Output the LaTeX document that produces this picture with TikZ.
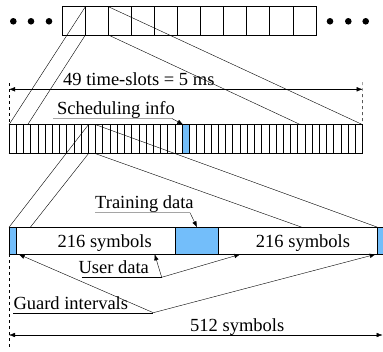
\documentclass[tikz,border=0pt]{standalone}
\usepackage{fontspec}
\setmainfont{Liberation Serif}
\usetikzlibrary{arrows.meta}
\usetikzlibrary{positioning}
\usetikzlibrary{calc}

\definecolor{slotblue}{RGB}{115,190,250}
\pgfdeclarelayer{back}
\pgfsetlayers{back,main}

\begin{document}
\begin{tikzpicture}[
      x = 1pt, y = -1pt,
      line width = 0.7pt,
      >={Latex[length=6pt,width=4.5pt]},
      node distance = 0pt,
      every node/.style = { font = \fontsize{18.5}{22}\selectfont },
      box/.style = {
        draw, fill = white,
        inner sep = 0pt, outer sep = 0pt,
        anchor = north west
      },
      pilot/.style = { fill = slotblue },
      tag/.style = { anchor = base west, inner sep = 0pt },
    ]
    \useasboundingbox (0,0) rectangle (383,351);

    % frame of time-slots
    \foreach \i in {0,...,10} {
      \node[box, minimum width = 23.06pt, minimum height = 28.3pt] (f\i) at (62.3+\i*23.06, 6.7) {};
    }
    \foreach \x in {13.3, 31, 49, 330, 348.3, 365.7} {
      \fill (\x, 21.3) circle (3.3pt);
    }

    % one time-slot
    \foreach \i in {0,...,48} {
      \node[box, minimum width = 7.218pt, minimum height = 29pt] (s\i) at (9+\i*7.218, 124.7) {};
    }
    \node[box, pilot, minimum width = 7.218pt, minimum height = 29pt] (sched) at (s24.north west) {};

    % one slot of 512 symbols
    \node[box, pilot, minimum width = 7.7pt, minimum height = 27pt] (g1) at (9, 227.3) {};
    \node[box, text depth = 0pt, minimum width = 159pt, minimum height = 27pt, right = of g1] (u1) {\hspace*{17pt}216 symbols};
    \node[box, pilot, minimum width = 42.6pt, minimum height = 27pt, right = of u1] (tr) {};
    \node[box, text depth = 0pt, minimum width = 159.4pt, minimum height = 27pt, right = of tr] (u2) {\hspace*{10pt}216 symbols};
    \node[box, pilot, minimum width = 7.7pt, minimum height = 27pt, right = of u2] (g2) {};

    % zoom lines
    \begin{pgfonlayer}{back}
      \draw (f1.south west) to (s0.south west);
      \draw (f1.south east) to (s48.south east);
      \draw (s11.south west) to (g1.south west);
      \draw (s11.south east) to (g2.south west);
    \end{pgfonlayer}
    \draw (f1.north west) to (s0.north west);
    \draw (f1.north east) to (s48.north east);
    \draw (s11.north west) to (g1.north west);
    \draw (s11.north east) to (g2.north west);

    % dimensions
    \coordinate (lt) at (9, 83);
    \coordinate (rt) at (362.7, 82);
    \coordinate (lb) at (9, 349);
    \draw[dashed] (lt) to (s0.north west);
    \draw[dashed] (rt) to (s48.north east);
    \draw[dashed] (g1.south west) to (lb);

    \coordinate (a1) at (9, 89.3);
    \coordinate (a2) at (362.7, 89.3);
    \draw[<->] (a1) to (a2);
    \node[tag] (slots) at (63, 85) {49 time-slots = 5 ms};

    \coordinate (b1) at (9, 335);
    \coordinate (b2) at (382.6, 335);
    \draw[<->] (b1) to (b2);
    \node[tag] (total) at (190, 331) {512 symbols};

    % labels
    \node[tag] (info) at (57, 114) {Scheduling info};
    \draw[->] (53, 118.5) -- (172, 118.5) -- ([xshift=1pt]sched.north west);

    \node[tag] (train) at (95, 208.5) {Training data};
    \draw[->] (95, 212.7) -- (190, 212.7) -- (tr.north);

    \node[tag] (user) at (78.3, 273.3) {User data};
    \draw (81.7, 277.3) -- (161.7, 277.3) coordinate (uv);
    \draw[->] (uv) -- ([xshift=-21pt]u1.south east);
    \draw[->] (uv) -- ([xshift=22pt]u2.south west);

    \node[tag] (guard) at (13.3, 309.3) {Guard intervals};
    \draw (13.3, 312.7) -- (153.3, 312.7) coordinate (gv);
    \draw[->] (gv) -- ([xshift=2pt]g1.south east);
    \draw[->] (gv) -- ([xshift=-2pt]g2.south west);
  \end{tikzpicture}
\end{document}
